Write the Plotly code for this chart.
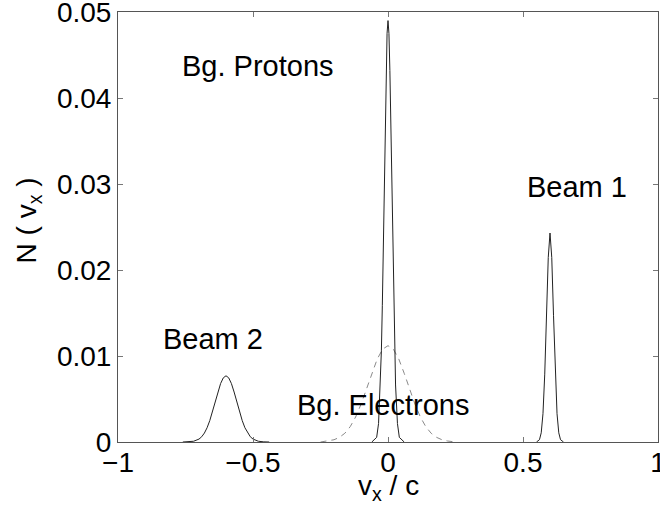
import plotly.graph_objects as go

# ---- data ----
proton_x = [-0.06, -0.042, -0.035, -0.028, -0.0245, -0.021, -0.0175, -0.014, -0.0105, -0.007, -0.0035, 0.0,
            0.0035, 0.007, 0.0105, 0.014, 0.0175, 0.021, 0.0245, 0.028, 0.035, 0.042, 0.06]
proton_y = [0.0, 0.00054, 0.00215, 0.00663, 0.0106, 0.0159, 0.0224, 0.0297, 0.0370, 0.0432, 0.0475, 0.049,
            0.0475, 0.0432, 0.0370, 0.0297, 0.0224, 0.0159, 0.0106, 0.00663, 0.00215, 0.00054, 0.0]

beam1_x = [0.55, 0.561, 0.5675, 0.574, 0.5805, 0.587, 0.5935, 0.6,
           0.6065, 0.613, 0.6195, 0.626, 0.6325, 0.639, 0.65]
beam1_y = [0.0, 0.00027, 0.00107, 0.00329, 0.00789, 0.01474, 0.02145, 0.0243,
           0.02145, 0.01474, 0.00789, 0.00329, 0.00107, 0.00027, 0.0]

beam2_x = [-0.76, -0.74, -0.72, -0.70, -0.69, -0.68, -0.67, -0.66, -0.65, -0.64, -0.63, -0.62, -0.61, -0.60,
           -0.59, -0.58, -0.57, -0.56, -0.55, -0.54, -0.53, -0.52, -0.51, -0.50, -0.48, -0.46, -0.44]
beam2_y = [0.0, 0.000017, 0.000086, 0.00034, 0.00061, 0.00104, 0.00166, 0.0025, 0.00353, 0.00467, 0.00581, 0.0068, 0.00746, 0.0077,
           0.00746, 0.0068, 0.00581, 0.00467, 0.00353, 0.0025, 0.00166, 0.00104, 0.00061, 0.00034, 0.000086, 0.000017, 0.0]

electron_x = [-0.25, -0.22, -0.20, -0.18, -0.16, -0.14, -0.12, -0.10, -0.08, -0.06, -0.04, -0.02, 0.0,
              0.02, 0.04, 0.06, 0.08, 0.10, 0.12, 0.14, 0.16, 0.18, 0.20, 0.22, 0.25]
electron_y = [0.0, 0.00012, 0.00026, 0.00054, 0.00101, 0.00178, 0.0029, 0.00438, 0.00615, 0.00799, 0.00964, 0.01079, 0.0112,
              0.01079, 0.00964, 0.00799, 0.00615, 0.00438, 0.0029, 0.00178, 0.00101, 0.00054, 0.00026, 0.00012, 0.0]

x_ticks = [-1, -0.5, 0, 0.5, 1]
x_tick_labels = ["\u22121", "\u22120.5", "0", "0.5", "1"]
y_ticks = [0, 0.01, 0.02, 0.03, 0.04, 0.05]
y_tick_labels = ["0", "0.01", "0.02", "0.03", "0.04", "0.05"]

labels = ["Bg. Protons", "Beam 1", "Beam 2", "Bg. Electrons"]
label_x = [-0.481, 0.70, -0.648, -0.0185]
label_y = [0.0437, 0.0297, 0.0120, 0.0043]

x_title = "v<sub>x</sub> / c"
y_title = "N ( v<sub>x</sub> )"

FONT = "Liberation Sans, Arial, Helvetica, sans-serif"

fig = go.Figure()
fig.add_trace(go.Scatter(x=electron_x, y=electron_y, mode="lines",
                         line=dict(color="#8a8a8a", width=1, dash="6px,5px")))
for xs, ys in [(proton_x, proton_y), (beam1_x, beam1_y), (beam2_x, beam2_y)]:
    fig.add_trace(go.Scatter(x=xs, y=ys, mode="lines",
                             line=dict(color="#222222", width=1)))

for t, ax_, ay_ in zip(labels, label_x, label_y):
    fig.add_annotation(x=ax_, y=ay_, text=t, showarrow=False,
                       xanchor="center", yanchor="middle",
                       font=dict(family=FONT, size=29, color="black"))

# axis titles as paper annotations for exact placement
fig.add_annotation(x=0.5, y=-0.105, xref="paper", yref="paper", text=x_title,
                   showarrow=False, xanchor="center", yanchor="middle",
                   font=dict(family=FONT, size=28, color="black"))
fig.add_annotation(x=-0.165, y=0.515, xref="paper", yref="paper", text=y_title,
                   showarrow=False, xanchor="center", yanchor="middle", textangle=-90,
                   font=dict(family=FONT, size=28, color="black"))

axis_common = dict(showline=True, linecolor="#555555", linewidth=1, mirror="ticks",
                   ticks="inside", ticklen=5, tickcolor="#777777",
                   showgrid=False, zeroline=False, automargin=False,
                   ticklabeloverflow="allow",
                   tickfont=dict(family=FONT, size=28, color="black"))

fig.update_layout(
    width=660, height=512,
    margin=dict(l=118, r=2, t=12, b=70),
    paper_bgcolor="white", plot_bgcolor="white",
    showlegend=False,
    xaxis=dict(range=[-1, 1], tickvals=x_ticks, ticktext=x_tick_labels,
               ticklabelstandoff=-5, **axis_common),
    yaxis=dict(range=[0, 0.05], tickvals=y_ticks, ticktext=y_tick_labels, **axis_common),
)

fig.write_html("out.html", config={"displayModeBar": False},
               post_script="document.body.style.margin='0';document.body.style.overflow='hidden';")
